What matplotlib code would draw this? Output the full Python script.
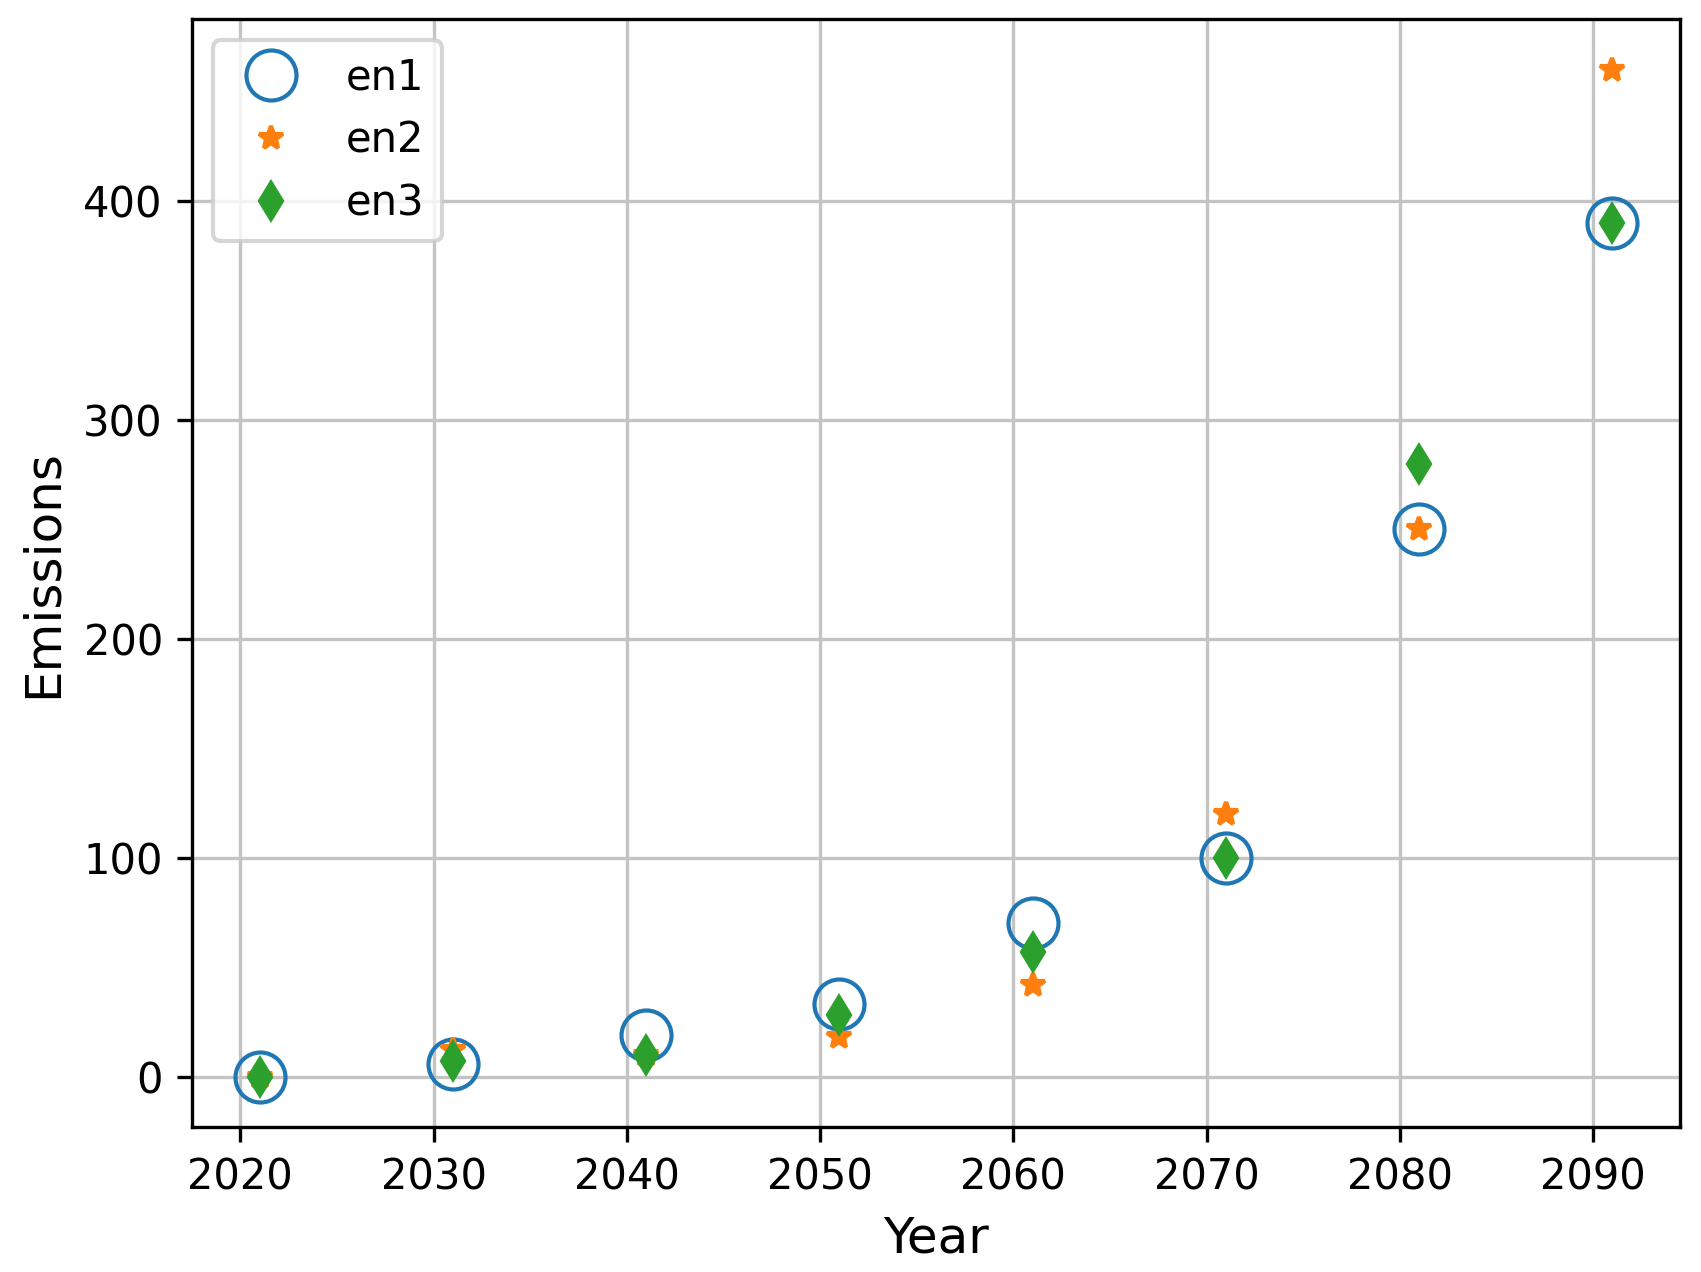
import matplotlib
matplotlib.use("Agg")
import matplotlib.pyplot as plt

years = [2021, 2031, 2041, 2051, 2061, 2071, 2081, 2091]
en1 = [0, 6, 19, 33, 70, 100, 250, 390]
en2 = [0, 12, 10, 18, 42, 120, 250, 460]
en3 = [0, 7, 10, 28, 57, 100, 280, 390]

fig = plt.figure(figsize=(1701 / 300, 1272 / 300), dpi=300)
ax = fig.add_subplot(111)
fig.subplots_adjust(left=0.1129, right=0.9877, bottom=0.114, top=0.9847)
ax.plot(years, en1, linestyle='none', marker='o', markersize=12, markerfacecolor='none',
        markeredgewidth=1.0, color='#1f77b4', label='en1')
ax.plot(years, en2, linestyle='none', marker='*', markersize=6, color='#ff7f0e', label='en2')
ax.plot(years, en3, linestyle='none', marker='d', markersize=6, color='#2ca02c', label='en3')
ax.grid(True, color='#c4c4c4', linewidth=0.8)
ax.set_xlabel('Year', fontsize=12)
ax.set_ylabel('Emissions', fontsize=12)
ax.legend(loc='upper left', fontsize=10)
fig.savefig('out.png', dpi=300)
